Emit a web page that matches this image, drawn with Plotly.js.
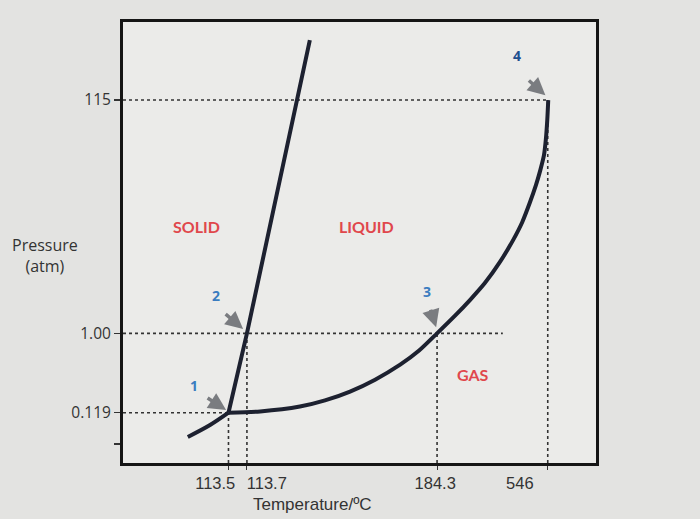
<!DOCTYPE html>
<html>
<head>
<meta charset="utf-8">
<script src="https://cdn.plot.ly/plotly-3.0.1.min.js"></script>
<style>html,body{margin:0;padding:0;background:#e3e3e1;}#chart{width:700px;height:519px;}</style>
</head>
<body>
<div id="chart"></div>
<script>
// Schematic phase diagram (axes not to scale): positions on a 0-100 schematic scale
const xTickLabels = ['113.5', '113.7', '184.3', '546'];
const xTickPos = [22.3, 26.2, 66.4, 89.8];
const xLabelPos = [19.5, 30.4, 66.0, 83.9];

const yTickLabels = ['115', '1.00', '0.119', ''];
const yTickPos = [82.3, 29.4, 11.4, 4.3];

// Sublimation curve (solid-gas)
const subT = [13.7, 18.4, 22.3];
const subP = [5.9, 8.6, 11.4];
// Fusion curve (solid-liquid)
const fusT = [22.3, 26.2, 39.5];
const fusP = [11.4, 29.4, 95.9];
// Vaporization curve (liquid-gas), triple point to critical point
const vapT = [22.3, 29.0, 37.4, 42.7, 48.0, 53.3, 58.6, 62.6, 66.4, 70.2, 73.4, 76.5, 79.7, 82.5, 84.4, 86.0, 87.3, 88.2, 89.0, 89.4, 89.7, 89.9];
const vapP = [11.4, 11.7, 12.8, 14.2, 16.2, 18.9, 22.3, 25.5, 29.4, 33.4, 37.0, 40.8, 45.6, 50.6, 54.6, 59.0, 63.0, 66.3, 69.8, 73.4, 77.8, 82.3];

// Guide lines: horizontal ones (end on the right), and vertical ones (top)
const hGuideP = [82.3, 29.4, 11.4];
const hGuideEnd = [89.9, 80.3, 22.3];
const vGuideT = [22.3, 26.2, 66.4, 89.8];
const vGuideTop = [11.4, 29.4, 29.4, 82.3];

// Point labels
const ptNames = ['1', '2', '3', '4'];
const ptLabelT = [15.0, 19.7, 64.3, 83.3];
const ptLabelP = [17.5, 37.9, 39.0, 92.5];
const arrowT = [21.8, 25.4, 66.2, 89.3];
const arrowP = [12.0, 30.4, 30.8, 83.4];
const arrowAx = [-20, -19, -6, -18];
const arrowAy = [-13, -16, -19, -16];

const regionNames = ['SOLID', 'LIQUID', 'GAS'];
const regionT = [15.6, 51.4, 74.0];
const regionP = [53.7, 53.7, 20.0];

const curveStyle = {color: '#1d2130', width: 4};
const guideStyle = {color: '#333', width: 1.6, dash: 'dot'};

const traces = [];
hGuideP.forEach((p, i) => {
  traces.push({x: [0, hGuideEnd[i]], y: [p, p], mode: 'lines', line: guideStyle, hoverinfo: 'skip', showlegend: false});
});
vGuideT.forEach((t, i) => {
  traces.push({x: [t, t], y: [0, vGuideTop[i]], mode: 'lines', line: guideStyle, hoverinfo: 'skip', showlegend: false});
});
traces.push({x: subT, y: subP, mode: 'lines', line: Object.assign({shape: 'spline'}, curveStyle), showlegend: false});
traces.push({x: fusT, y: fusP, mode: 'lines', line: curveStyle, showlegend: false});
traces.push({x: vapT, y: vapP, mode: 'lines', line: Object.assign({shape: 'spline', smoothing: 0.6}, curveStyle), showlegend: false});
// invisible trace for the tick-label axis
traces.push({x: [xLabelPos[0]], y: [0], xaxis: 'x2', mode: 'markers', marker: {opacity: 0}, hoverinfo: 'skip', showlegend: false});

const annotations = [];
ptNames.forEach((n, i) => {
  annotations.push({x: ptLabelT[i], y: ptLabelP[i], text: '<b>' + n + '</b>', showarrow: false,
    font: {family: 'Open Sans, Liberation Sans, sans-serif', size: 14, color: i === 3 ? '#1f4f8f' : '#3a7cc0'}});
  annotations.push({x: arrowT[i], y: arrowP[i], text: '', showarrow: true, ax: arrowAx[i], ay: arrowAy[i],
    arrowhead: 2, arrowsize: 1, arrowwidth: 3.5, arrowcolor: '#7a7c80'});
});
regionNames.forEach((n, i) => {
  annotations.push({x: regionT[i], y: regionP[i], text: '<b>' + n + '</b>', showarrow: false,
    font: {family: 'Lato, Open Sans, sans-serif', size: 16, color: '#e0474c'}});
});
annotations.push({xref: 'paper', yref: 'paper', x: -0.165, y: 0.47, xanchor: 'center', yanchor: 'middle',
  text: 'Pressure<br>(atm)', showarrow: false, align: 'center',
  font: {family: 'Open Sans, sans-serif', size: 16, color: '#333'}});
annotations.push({xref: 'paper', yref: 'paper', x: 0.4, y: -0.095, xanchor: 'center', yanchor: 'middle',
  text: 'Temperature/ºC', showarrow: false,
  font: {family: 'Liberation Sans, Arial, sans-serif', size: 17, color: '#333'}});

const layout = {
  width: 700, height: 519,
  margin: {l: 123, r: 104, t: 22, b: 56},
  paper_bgcolor: '#e3e3e1',
  plot_bgcolor: '#ebebe9',
  xaxis: {range: [0, 100], tickvals: xTickPos, ticktext: xTickLabels, showticklabels: false,
    ticks: 'outside', ticklen: 4, tickcolor: '#333', showgrid: false, zeroline: false,
    showline: true, mirror: true, linecolor: '#151515', linewidth: 3, fixedrange: true},
  xaxis2: {range: [0, 100], overlaying: 'x', side: 'bottom', tickvals: xLabelPos, ticktext: xTickLabels,
    ticks: 'outside', ticklen: 5, tickcolor: 'rgba(0,0,0,0)', showgrid: false, zeroline: false, showline: false,
    tickfont: {family: 'Liberation Sans, Arial, sans-serif', size: 16.5, color: '#333'}},
  yaxis: {range: [0, 100], tickvals: yTickPos, ticktext: yTickLabels, ticks: 'outside', ticklen: 6,
    tickcolor: '#333', tickwidth: 1.5, showgrid: false, zeroline: false,
    showline: true, mirror: true, linecolor: '#151515', linewidth: 3,
    tickfont: {family: 'Open Sans, Liberation Sans, sans-serif', size: 15.5, color: '#333'}, fixedrange: true},
  annotations: annotations,
  showlegend: false
};

Plotly.newPlot('chart', traces, layout, {displayModeBar: false, staticPlot: true});
</script>
</body>
</html>
